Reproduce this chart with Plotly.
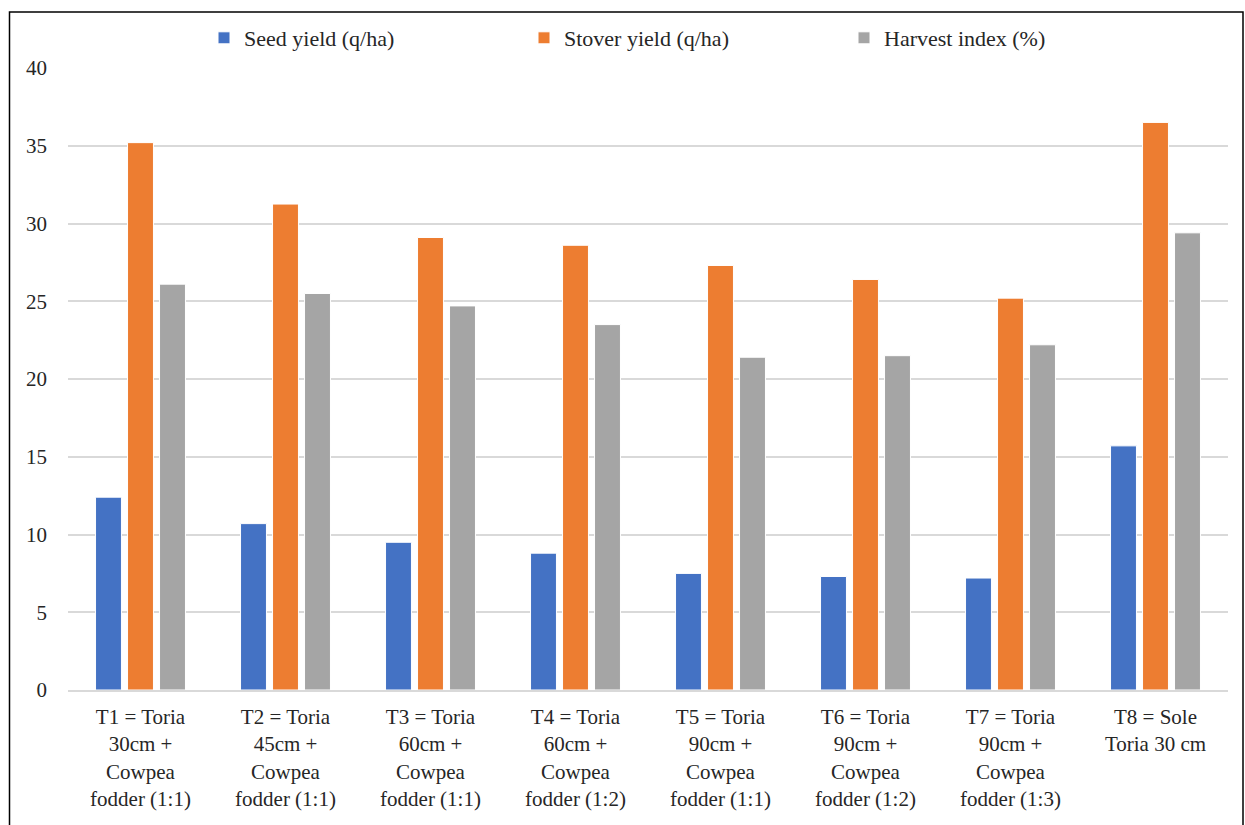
import plotly.graph_objects as go

categories = [
    "T1 = Toria<br>30cm +<br>Cowpea<br>fodder (1:1)",
    "T2 = Toria<br>45cm +<br>Cowpea<br>fodder (1:1)",
    "T3 = Toria<br>60cm +<br>Cowpea<br>fodder (1:1)",
    "T4 = Toria<br>60cm +<br>Cowpea<br>fodder (1:2)",
    "T5 = Toria<br>90cm +<br>Cowpea<br>fodder (1:1)",
    "T6 = Toria<br>90cm +<br>Cowpea<br>fodder (1:2)",
    "T7 = Toria<br>90cm +<br>Cowpea<br>fodder (1:3)",
    "T8 = Sole<br>Toria 30 cm<br> <br> ",
]
seed_yield = [12.4, 10.7, 9.5, 8.8, 7.5, 7.3, 7.2, 15.7]
stover_yield = [35.2, 31.25, 29.1, 28.6, 27.3, 26.4, 25.2, 36.5]
harvest_index = [26.1, 25.5, 24.7, 23.5, 21.4, 21.5, 22.2, 29.4]

series_names = ["Seed yield (q/ha)", "Stover yield (q/ha)", "Harvest index (%)"]
colors = ["#4472C4", "#ED7D31", "#A5A5A5"]

FONT = "Times New Roman, Liberation Serif, Tinos, DejaVu Serif, serif"
TXT = "#262626"

fig = go.Figure()
for name, vals, col in zip(series_names, [seed_yield, stover_yield, harvest_index], colors):
    fig.add_trace(go.Bar(
        x=categories, y=vals, name=name,
        marker=dict(color=col, line=dict(color="white", width=1)),
    ))

W, H = 1245, 825
L, R, T, B = 68, 17, 68, 135
pw, ph = W - L - R, H - T - B

def px_x(p):
    return (p - L) / pw

def px_y(p):
    return (H - B - p) / ph

fig.update_layout(
    width=W, height=H,
    margin=dict(l=L, r=R, t=T, b=B, autoexpand=False),
    paper_bgcolor="white", plot_bgcolor="white",
    barmode="group", bargap=0.338, bargroupgap=0.19,
    font=dict(family=FONT, size=21, color=TXT),
    showlegend=True,
    legend=dict(
        orientation="h", x=px_x(204), xanchor="left", y=px_y(38), yanchor="middle",
        font=dict(family=FONT, size=22, color=TXT),
        entrywidth=275, entrywidthmode="pixels",
        itemwidth=30, traceorder="normal",
        bgcolor="rgba(0,0,0,0)",
    ),
    xaxis=dict(
        showgrid=False, showline=True, linecolor="#D9D9D9", linewidth=1.5,
        ticks="", tickfont=dict(family=FONT, size=21, color=TXT),
        ticklabelstandoff=7,
    ),
    yaxis=dict(
        range=[0, 40], dtick=5, showgrid=True, gridcolor="#D9D9D9", gridwidth=1.5,
        zeroline=False, showline=False, ticks="",
        tickfont=dict(family=FONT, size=21, color=TXT),
        ticklabelstandoff=20,
    ),
    shapes=[dict(
        type="rect", xref="paper", yref="paper",
        x0=px_x(9.5), x1=px_x(1243), y0=px_y(835), y1=px_y(12),
        line=dict(color="black", width=1.5), fillcolor="rgba(0,0,0,0)",
        layer="above",
    )],
)

fig.write_html("out.html")
